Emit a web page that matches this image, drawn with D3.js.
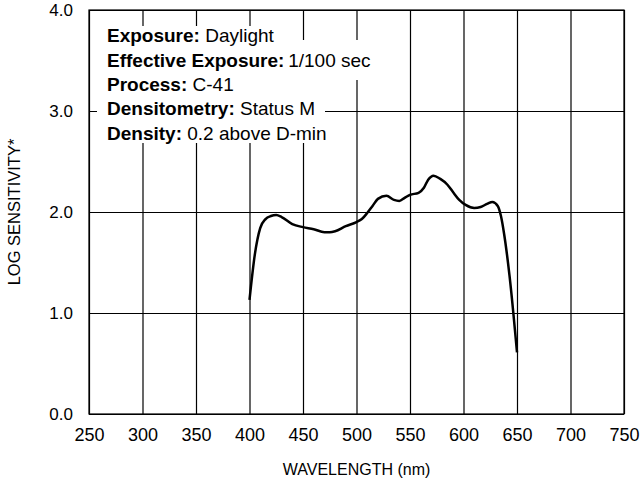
<!DOCTYPE html>
<html>
<head>
<meta charset="utf-8">
<script src="https://cdn.jsdelivr.net/npm/d3@7"></script>
<style>
  body { margin: 0; background: #fff; }
  text { font-family: "Liberation Sans", Arial, sans-serif; fill: #000; }
</style>
</head>
<body>
<div id="chart"></div>
<script>
// Define SVG area dimensions
var svgWidth = 642;
var svgHeight = 480;

var chartMargin = { top: 10, right: 18, bottom: 66, left: 89 };

var chartWidth = svgWidth - chartMargin.left - chartMargin.right;
var chartHeight = svgHeight - chartMargin.top - chartMargin.bottom;

// data
var wavelength = [400, 405, 410, 415, 420, 425, 430, 440, 450, 460, 470, 475, 480, 490, 500, 505, 510, 515, 520, 528,
                  535, 540, 545, 550, 558, 563, 567, 572, 578, 585, 590, 596, 602, 610, 616, 622, 627, 632, 635, 638, 643, 650];
var logSens = [1.13, 1.58, 1.84, 1.93, 1.96, 1.97, 1.95, 1.88, 1.85, 1.83, 1.80, 1.80, 1.81, 1.86, 1.90, 1.93, 1.99, 2.06, 2.13, 2.16,
               2.12, 2.11, 2.14, 2.17, 2.19, 2.24, 2.32, 2.36, 2.33, 2.27, 2.20, 2.12, 2.07, 2.04, 2.05, 2.08, 2.10, 2.06, 1.96, 1.78, 1.37, 0.61];
var xTicks = [250, 300, 350, 400, 450, 500, 550, 600, 650, 700, 750];
var yTicks = [0, 1, 2, 3, 4];

var infoLabels = ["Exposure:", "Effective Exposure:", "Process:", "Densitometry:", "Density:"];
var infoValues = [" Daylight", "\u20091/100 sec", " C-41", " Status M", " 0.2 above D-min"];

var svg = d3.select("#chart")
    .append("svg")
    .attr("width", svgWidth)
    .attr("height", svgHeight);

var chartGroup = svg.append("g")
    .attr("transform", `translate(${chartMargin.left}, ${chartMargin.top})`);

var xLinearScale = d3.scaleLinear().domain([250, 750]).range([0, chartWidth]);
var yLinearScale = d3.scaleLinear().domain([0, 4]).range([chartHeight, 0]);

// vertical grid + x labels
var xAxis = chartGroup.append("g")
    .attr("transform", `translate(0, ${chartHeight})`)
    .call(d3.axisBottom(xLinearScale).tickValues(xTicks).tickSize(-chartHeight).tickPadding(14).tickFormat(d3.format("d")));

// horizontal grid + y labels
var yAxis = chartGroup.append("g")
    .call(d3.axisLeft(yLinearScale).tickValues(yTicks).tickSize(-chartWidth).tickPadding(16).tickFormat(d3.format(".1f")));

xAxis.select(".domain").remove();
yAxis.select(".domain").remove();
xAxis.selectAll("line").attr("stroke", "#000").attr("stroke-width", 1.2);
yAxis.selectAll("line").attr("stroke", "#000").attr("stroke-width", 1.2);
xAxis.selectAll("text").style("font-size", "18px").attr("fill", "#000");
yAxis.selectAll("text").style("font-size", "17px").attr("fill", "#000");

// plot border
chartGroup.append("rect")
    .attr("width", chartWidth)
    .attr("height", chartHeight)
    .attr("fill", "none")
    .attr("stroke", "#000")
    .attr("stroke-width", 1.2);

// curve
var data = wavelength.map((w, i) => ({ w: w, v: logSens[i] }));
var line = d3.line()
    .x(d => xLinearScale(d.w))
    .y(d => yLinearScale(d.v))
    .curve(d3.curveMonotoneX);

chartGroup.append("path")
    .datum(data)
    .attr("d", line)
    .attr("fill", "none")
    .attr("stroke", "#000")
    .attr("stroke-width", 2.5)
    .attr("stroke-linejoin", "round");

// info block, each line on its own white patch
var bgGroup = svg.append("g");
var infoGroup = svg.append("g");
var baselines = [42, 67, 91, 115, 140];
var padTop = [16, 27, 21, 35, 20];
var padBottom = [8, 13, 9, 10, 3];

infoLabels.forEach(function(lbl, i) {
    var t = infoGroup.append("text")
        .attr("x", 107)
        .attr("y", baselines[i])
        .style("font-size", "19px");
    t.append("tspan").attr("font-weight", "bold").text(lbl);
    t.append("tspan").text(infoValues[i]);
    var len = t.node().getComputedTextLength();
    bgGroup.append("rect")
        .attr("fill", "#fff")
        .attr("x", 97)
        .attr("y", baselines[i] - padTop[i])
        .attr("width", len + 20)
        .attr("height", padTop[i] + padBottom[i]);
});

// axis titles
svg.append("text")
    .attr("x", chartMargin.left + chartWidth / 2)
    .attr("y", 475)
    .attr("text-anchor", "middle")
    .style("font-size", "16px")
    .text("WAVELENGTH (nm)");

svg.append("text")
    .attr("transform", "rotate(-90)")
    .attr("x", -(chartMargin.top + chartHeight / 2))
    .attr("y", 20)
    .attr("text-anchor", "middle")
    .style("font-size", "16.5px")
    .text("LOG SENSITIVITY*");
</script>
</body>
</html>
